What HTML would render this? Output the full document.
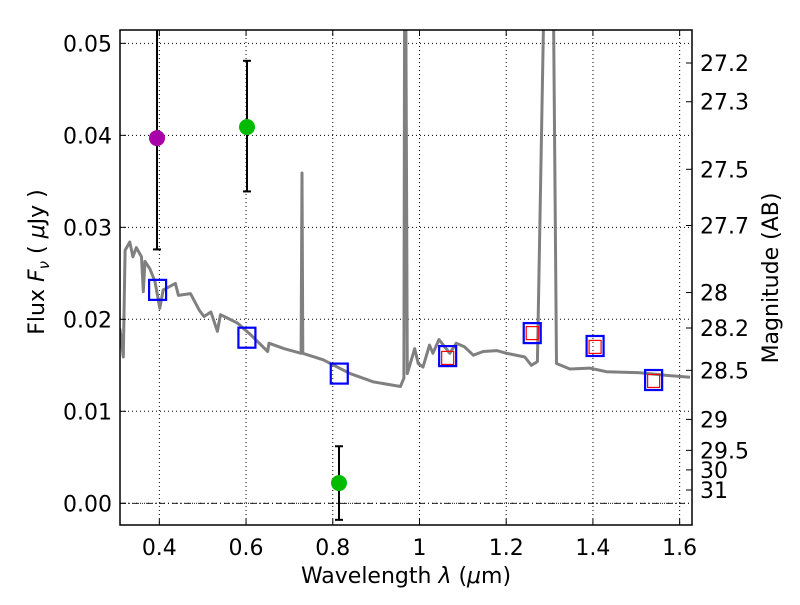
<!DOCTYPE html>
<html><head><meta charset="utf-8"><style>
html,body{margin:0;padding:0;background:#fff;}
svg text{font-family:"DejaVu Sans","Liberation Sans",sans-serif;fill:#000;}
</style></head><body>
<svg id="chart" width="800" height="600" xmlns="http://www.w3.org/2000/svg">
<defs><clipPath id="plotclip"><rect x="120" y="30" width="572" height="495"/></clipPath></defs>
<g id="grid"></g>
<g id="marks" clip-path="url(#plotclip)"></g>
<rect x="120" y="30" width="572" height="495" fill="none" stroke="#000" stroke-width="1.5"/>
<g id="axes"></g>
<text x="406" y="583" font-size="22" text-anchor="middle">Wavelength  <tspan font-style="italic">λ</tspan> (<tspan font-style="italic">μ</tspan>m)</text>
<text transform="translate(44,262) rotate(-90)" font-size="22" text-anchor="middle">Flux  <tspan font-style="italic">F</tspan><tspan font-style="italic" font-size="15" dy="5">ν</tspan><tspan dy="-5">  ( </tspan><tspan font-style="italic">μ</tspan>Jy )</text>
<text transform="translate(778,278) rotate(-90)" font-size="22" text-anchor="middle">Magnitude (AB)</text>
</svg>
<script>
const xTicks=[0.4,0.6,0.8,1.0,1.2,1.4,1.6];
const xTickLabels=["0.4","0.6","0.8","1","1.2","1.4","1.6"];
const yTicks=[0.00,0.01,0.02,0.03,0.04,0.05];
const yTickLabels=["0.00","0.01","0.02","0.03","0.04","0.05"];
const magTicks=[27.2,27.3,27.5,27.7,28,28.2,28.5,29,29.5,30,31];
const specLam=[0.309,0.317,0.321,0.332,0.339,0.347,0.359,0.363,0.367,0.378,0.390,0.401,0.409,0.437,0.444,0.472,0.492,0.503,0.519,0.534,0.541,0.580,0.611,0.650,0.653,0.688,0.727,0.729,0.731,0.778,0.840,0.894,0.956,0.964,0.966,0.968,0.972,0.989,0.997,1.008,1.023,1.031,1.045,1.070,1.085,1.104,1.124,1.147,1.178,1.201,1.243,1.258,1.272,1.289,1.308,1.316,1.347,1.393,1.431,1.508,1.570,1.624];
const specFlux=[0.0190,0.0159,0.0275,0.0284,0.0268,0.0278,0.0268,0.0230,0.0263,0.0255,0.0241,0.0212,0.0232,0.0239,0.0226,0.0228,0.0210,0.0203,0.0208,0.0187,0.0205,0.0196,0.0183,0.0165,0.0174,0.0168,0.0163,0.0359,0.0163,0.0156,0.0141,0.0132,0.0127,0.0136,0.0600,0.0600,0.0141,0.0168,0.0152,0.0148,0.0172,0.0163,0.0178,0.0163,0.0174,0.0170,0.0161,0.0165,0.0166,0.0163,0.0159,0.0150,0.0154,0.0600,0.0600,0.0152,0.0146,0.0147,0.0143,0.0142,0.0139,0.0137];
const obsLam=[0.394,0.602,0.815];
const obsFlux=[0.0397,0.0409,0.0022];
const obsErrLo=[0.0276,0.0339,-0.0018];
const obsErrHi=[0.0600,0.0481,0.0062];
const obsColors=["#aa00aa","#00bb00","#00bb00"];
const modelLam=[0.396,0.602,0.815,1.065,1.26,1.405,1.54];
const modelFlux=[0.0232,0.0180,0.0141,0.0160,0.0185,0.0171,0.0134];
const redLam=[1.065,1.26,1.405,1.54];
const redFlux=[0.0158,0.0185,0.0170,0.0133];

const NS="http://www.w3.org/2000/svg";
const X0=120,X1=692,Y0=525,Y1=30;
const xmin=0.3093,xmax=1.6285,ymin=-0.00236,ymax=0.05145;
function xs(v){return X0+(v-xmin)/(xmax-xmin)*(X1-X0);}
function ys(v){return Y0-(v-ymin)/(ymax-ymin)*(Y0-Y1);}
function magToFlux(m){return Math.pow(10,(23.9-m)/2.5);}
function mk(tag,attrs,parent){const e=document.createElementNS(NS,tag);for(const k in attrs)e.setAttribute(k,attrs[k]);parent.appendChild(e);return e;}
const grid=document.getElementById('grid'),marks=document.getElementById('marks'),axes=document.getElementById('axes');

xTicks.forEach((t,i)=>{
  const x=xs(t);
  const g=mk('line',{x1:x,x2:x,y1:Y1,y2:Y0,stroke:'#000','stroke-width':1,'stroke-dasharray':'1,3'},grid);
  
  
  const tk=mk('line',{x1:x,x2:x,y1:Y0,y2:Y0-6,stroke:'#000','stroke-width':1},axes);
  
  
  const tk2=mk('line',{x1:x,x2:x,y1:Y1,y2:Y1+6,stroke:'#000','stroke-width':1},axes);
  
  
  const tx=mk('text',{x:x,y:Y0+30,'font-size':22,'text-anchor':'middle'},axes);
  tx.textContent=xTickLabels[i];
  
  
});
yTicks.forEach((t,i)=>{
  const y=ys(t);
  const g=mk('line',{x1:X0,x2:X1,y1:y,y2:y,stroke:'#000','stroke-width':1,'stroke-dasharray':'1,3'},grid);
  
  
  const tk=mk('line',{x1:X0,x2:X0+6,y1:y,y2:y,stroke:'#000','stroke-width':1},axes);
  
  
  const tx=mk('text',{x:X0-8,y:y+8,'font-size':22,'text-anchor':'end'},axes);
  tx.textContent=yTickLabels[i];
  
  
});
const zl=mk('line',{x1:X0,x2:X1,y1:ys(0),y2:ys(0),stroke:'#000','stroke-width':0.8,'stroke-dasharray':'6,3,1,3'},grid);


magTicks.forEach(m=>{
  const y=ys(magToFlux(m));
  const tk=mk('line',{x1:X1,x2:X1-6,y1:y,y2:y,stroke:'#000','stroke-width':1},axes);
  
  
  const tx=mk('text',{x:X1+8,y:y+8,'font-size':22,'text-anchor':'start'},axes);
  tx.textContent=String(m);
  
  
});

const pts=specLam.map((l,i)=>xs(l).toFixed(1)+','+ys(specFlux[i]).toFixed(1)).join(' ');
const sp=mk('polyline',{points:pts,fill:'none',stroke:'#808080','stroke-width':3,'stroke-linejoin':'round'},marks);



obsLam.forEach((l,i)=>{
  const x=Math.round(xs(l));
  const e=mk('line',{x1:x,x2:x,y1:ys(obsErrLo[i]),y2:ys(obsErrHi[i]),stroke:'#000','stroke-width':2},marks);
  
  
  [obsErrLo[i],obsErrHi[i]].forEach(v=>{
    const c=mk('line',{x1:x-4,x2:x+4,y1:ys(v),y2:ys(v),stroke:'#000','stroke-width':2},marks);
    
    
  });
  const p=mk('circle',{cx:x,cy:ys(obsFlux[i]),r:8,fill:obsColors[i]},marks);
  
  
});
modelLam.forEach((l,i)=>{
  const s=mk('rect',{x:xs(l)-8.5,y:ys(modelFlux[i])-10,width:17,height:20,fill:'none',stroke:'#0000ff','stroke-width':2.2},marks);
  
  
});
redLam.forEach((l,i)=>{
  const s=mk('rect',{x:xs(l)-6,y:ys(redFlux[i])-6.5,width:12,height:13,fill:'none',stroke:'#ff0000','stroke-width':1.2},marks);
  
  
});
</script>
</body></html>
